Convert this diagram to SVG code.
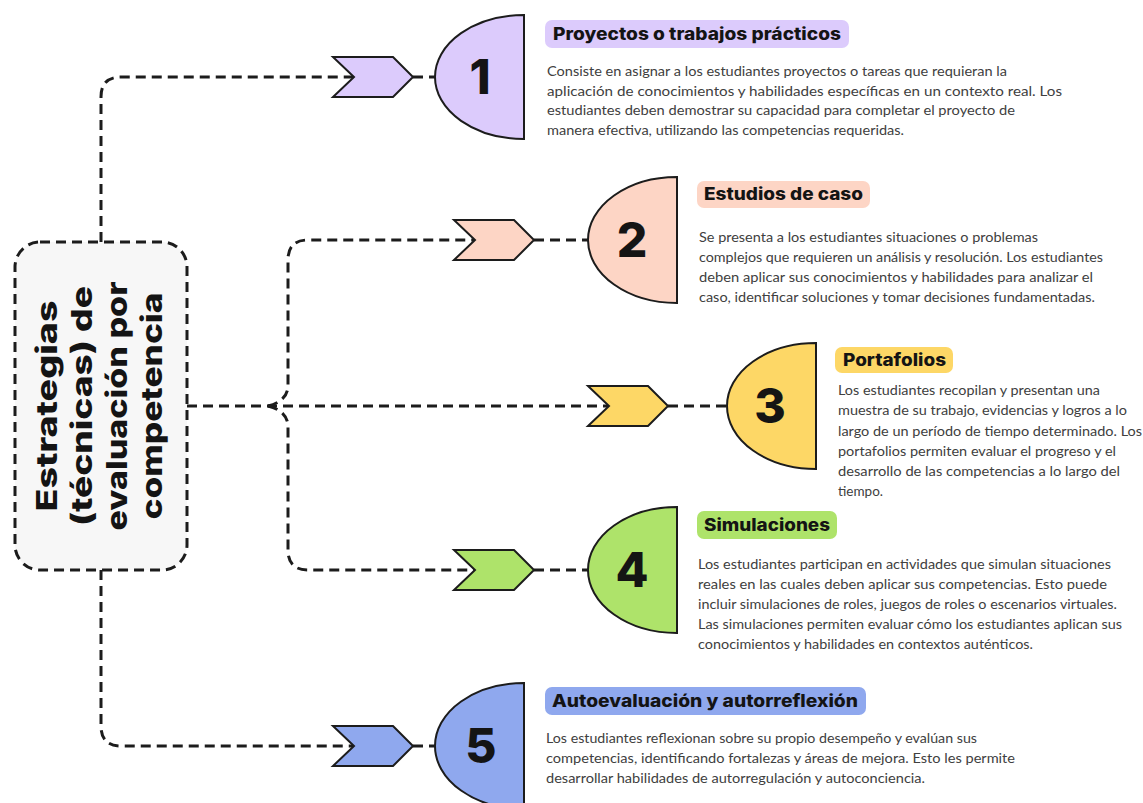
<svg xmlns="http://www.w3.org/2000/svg" width="1143" height="803" viewBox="0 0 1143 803">
<style>
.conn{fill:none;stroke:#1c1c1c;stroke-width:3;stroke-dasharray:10 6}
.shape{stroke:#1c1c1c;stroke-width:2;stroke-linejoin:miter}
.num{font-family:Inter,"Liberation Sans",sans-serif;font-weight:800;font-size:48px;fill:#141414;text-anchor:middle}
.ttl{font-family:Inter,"Liberation Sans",sans-serif;font-weight:800;font-size:17px;fill:#141414}
.desc{font-family:Lato,"Liberation Sans",sans-serif;font-size:14px;fill:#404040}
.main{font-family:Inter,"Liberation Sans",sans-serif;font-weight:800;font-size:29px;fill:#141414;text-anchor:middle}
.c1{fill:#dccbfc}.c2{fill:#fdd5c5}.c3{fill:#fdd766}.c4{fill:#aee36a}.c5{fill:#8fa8ee}
</style>
<defs>
<path id="chev" d="M0,-20 H60 L80,0 L60,20 H0 L21,0 Z"/>
</defs>
<rect width="1143" height="803" fill="#ffffff"/>
<g id="connectors">
<path class="conn" d="M101,242 V97 Q101,77 121,77 H355"/>
<path class="conn" d="M413,77 H436"/>
<path class="conn" d="M268,406 Q288,401 288,385 V260 Q288,240 308,240 H476"/>
<path class="conn" d="M534,240 H589"/>
<path class="conn" d="M187,406 H610"/>
<path class="conn" d="M668,406 H728"/>
<path class="conn" d="M268,406 Q288,411 288,427 V550 Q288,570 308,570 H476"/>
<path class="conn" d="M534,570 H589"/>
<path class="conn" d="M101,570 V726 Q101,746 121,746 H355"/>
<path class="conn" d="M413,746 H436"/>
</g>
<g id="root">
<rect x="15" y="242" width="172" height="328" rx="25" fill="#f7f7f7" stroke="#1c1c1c" stroke-width="3" stroke-dasharray="10 6"/>
<g transform="translate(101,406) rotate(-90)">
<text class="main" x="0" y="-44" textLength="211" lengthAdjust="spacingAndGlyphs">Estrategias</text>
<text class="main" x="0" y="-9" textLength="240" lengthAdjust="spacingAndGlyphs">(técnicas) de</text>
<text class="main" x="0" y="26" textLength="249" lengthAdjust="spacingAndGlyphs">evaluación por</text>
<text class="main" x="0" y="61" textLength="227" lengthAdjust="spacingAndGlyphs">competencia</text>
</g>
</g>
<g id="node1">
<use href="#chev" x="333" y="77" class="shape c1"/>
<path class="shape c1" d="M524,15 A89,62 0 0 0 524,139 Z"/>
<text class="num" x="480" y="94">1</text>
<rect x="545" y="20" width="304" height="28" rx="7" class="c1"/>
<text class="ttl" x="553" y="40" textLength="288" lengthAdjust="spacingAndGlyphs">Proyectos o trabajos prácticos</text>
<text class="desc" x="547" y="76" textLength="460" lengthAdjust="spacingAndGlyphs">Consiste en asignar a los estudiantes proyectos o tareas que requieran la</text>
<text class="desc" x="547" y="96" textLength="515" lengthAdjust="spacingAndGlyphs">aplicación de conocimientos y habilidades específicas en un contexto real. Los</text>
<text class="desc" x="547" y="115" textLength="468" lengthAdjust="spacingAndGlyphs">estudiantes deben demostrar su capacidad para completar el proyecto de</text>
<text class="desc" x="547" y="135" textLength="357" lengthAdjust="spacingAndGlyphs">manera efectiva, utilizando las competencias requeridas.</text>
</g>
<g id="node2">
<use href="#chev" x="454" y="240" class="shape c2"/>
<path class="shape c2" d="M677,177 A89,63 0 0 0 677,303 Z"/>
<text class="num" x="632" y="257">2</text>
<rect x="697" y="181" width="173" height="27" rx="7" class="c2"/>
<text class="ttl" x="704" y="200" textLength="159" lengthAdjust="spacingAndGlyphs">Estudios de caso</text>
<text class="desc" x="699" y="242" textLength="339" lengthAdjust="spacingAndGlyphs">Se presenta a los estudiantes situaciones o problemas</text>
<text class="desc" x="699" y="262" textLength="404" lengthAdjust="spacingAndGlyphs">complejos que requieren un análisis y resolución. Los estudiantes</text>
<text class="desc" x="699" y="282" textLength="394" lengthAdjust="spacingAndGlyphs">deben aplicar sus conocimientos y habilidades para analizar el</text>
<text class="desc" x="699" y="302" textLength="396" lengthAdjust="spacingAndGlyphs">caso, identificar soluciones y tomar decisiones fundamentadas.</text>
</g>
<g id="node3">
<use href="#chev" x="588" y="406" class="shape c3"/>
<path class="shape c3" d="M816,343 A89,63 0 0 0 816,469 Z"/>
<text class="num" x="770" y="423">3</text>
<rect x="835" y="347" width="118" height="26" rx="7" class="c3"/>
<text class="ttl" x="843" y="366" textLength="103" lengthAdjust="spacingAndGlyphs">Portafolios</text>
<text class="desc" x="838" y="395" textLength="262" lengthAdjust="spacingAndGlyphs">Los estudiantes recopilan y presentan una</text>
<text class="desc" x="838" y="415" textLength="289" lengthAdjust="spacingAndGlyphs">muestra de su trabajo, evidencias y logros a lo</text>
<text class="desc" x="838" y="436" textLength="304" lengthAdjust="spacingAndGlyphs">largo de un período de tiempo determinado. Los</text>
<text class="desc" x="838" y="456" textLength="278" lengthAdjust="spacingAndGlyphs">portafolios permiten evaluar el progreso y el</text>
<text class="desc" x="838" y="476" textLength="282" lengthAdjust="spacingAndGlyphs">desarrollo de las competencias a lo largo del</text>
<text class="desc" x="838" y="496" textLength="45" lengthAdjust="spacingAndGlyphs">tiempo.</text>
</g>
<g id="node4">
<use href="#chev" x="454" y="570" class="shape c4"/>
<path class="shape c4" d="M677,507 A89,63 0 0 0 677,633 Z"/>
<text class="num" x="632" y="587">4</text>
<rect x="697" y="511" width="140" height="28" rx="7" class="c4"/>
<text class="ttl" x="704" y="531" textLength="126" lengthAdjust="spacingAndGlyphs">Simulaciones</text>
<text class="desc" x="698" y="569" textLength="413" lengthAdjust="spacingAndGlyphs">Los estudiantes participan en actividades que simulan situaciones</text>
<text class="desc" x="698" y="589" textLength="409" lengthAdjust="spacingAndGlyphs">reales en las cuales deben aplicar sus competencias. Esto puede</text>
<text class="desc" x="698" y="609" textLength="419" lengthAdjust="spacingAndGlyphs">incluir simulaciones de roles, juegos de roles o escenarios virtuales.</text>
<text class="desc" x="698" y="629" textLength="424" lengthAdjust="spacingAndGlyphs">Las simulaciones permiten evaluar cómo los estudiantes aplican sus</text>
<text class="desc" x="698" y="649" textLength="335" lengthAdjust="spacingAndGlyphs">conocimientos y habilidades en contextos auténticos.</text>
</g>
<g id="node5">
<use href="#chev" x="333" y="746" class="shape c5"/>
<path class="shape c5" d="M524,683 A89,63 0 0 0 524,809 Z"/>
<text class="num" x="481" y="763">5</text>
<rect x="545" y="687" width="321" height="28" rx="7" class="c5"/>
<text class="ttl" x="552" y="707" textLength="306" lengthAdjust="spacingAndGlyphs">Autoevaluación y autorreflexión</text>
<text class="desc" x="546" y="743" textLength="431" lengthAdjust="spacingAndGlyphs">Los estudiantes reflexionan sobre su propio desempeño y evalúan sus</text>
<text class="desc" x="546" y="763" textLength="469" lengthAdjust="spacingAndGlyphs">competencias, identificando fortalezas y áreas de mejora. Esto les permite</text>
<text class="desc" x="546" y="783" textLength="379" lengthAdjust="spacingAndGlyphs">desarrollar habilidades de autorregulación y autoconciencia.</text>
</g>
</svg>
